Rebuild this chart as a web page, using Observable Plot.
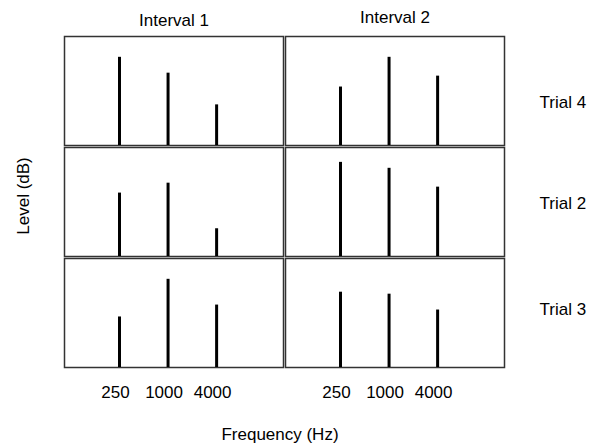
<!DOCTYPE html>
<html>
<head>
<meta charset="utf-8">
<script src="https://cdn.jsdelivr.net/npm/d3@7"></script>
<script src="https://cdn.jsdelivr.net/npm/@observablehq/plot@0.6"></script>
<style>
  html, body { margin: 0; padding: 0; background: white; }
</style>
</head>
<body>
<div id="chart"></div>
<script>
// Panels: columns are the two listening intervals, rows are trials.
const intervals = ["Interval 1", "Interval 2"];
const trials = ["Trial 4", "Trial 2", "Trial 3"];
// Tone frequencies (Hz), also used as the tick labels
const freqs = [250, 1000, 4000];

// Component levels (dB) at 250, 1000, 4000 Hz
const trial4Interval1 = [89, 73, 41];
const trial4Interval2 = [59, 89, 70];
const trial2Interval1 = [64, 74, 28];
const trial2Interval2 = [95, 89, 70];
const trial3Interval1 = [51, 89, 63];
const trial3Interval2 = [76, 74, 58];

const levels = {
  "Trial 4": [trial4Interval1, trial4Interval2],
  "Trial 2": [trial2Interval1, trial2Interval2],
  "Trial 3": [trial3Interval1, trial3Interval2]
};

const rows = [];
for (const trial of trials) {
  intervals.forEach((interval, i) => {
    freqs.forEach((freq, j) => {
      rows.push({trial, interval, freq, level: levels[trial][i][j]});
    });
  });
}

// Row labels sit a little off-centre of their panels
const trialLabelShift = {"Trial 4": 12, "Trial 2": 2, "Trial 3": -3};
const intervalLabelShift = {"Interval 1": 0, "Interval 2": -3};

const chart = Plot.plot({
  width: 589,
  height: 446,
  marginLeft: 64,
  marginRight: 85,
  marginTop: 36,
  marginBottom: 78,
  style: {
    fontFamily: "'Liberation Sans', Arial, sans-serif",
    fontSize: "17px",
    color: "black",
    background: "white"
  },
  x: {type: "log", domain: [52, 27000]},
  y: {domain: [0, 110], axis: null},
  fx: {domain: intervals, paddingInner: 0.011, paddingOuter: 0},
  fy: {domain: trials, paddingInner: 0.015, paddingOuter: 0},
  marks: [
    Plot.frame({stroke: "#333", strokeWidth: 1.5}),
    Plot.ruleX(rows, {
      x: "freq", y1: 0, y2: "level",
      fx: "interval", fy: "trial",
      stroke: "black", strokeWidth: 3
    }),
    Plot.axisX({ticks: freqs, tickSize: 0, tickPadding: 18, dx: -4, tickFormat: d => String(d), label: null}),
    ...intervals.map(t => Plot.axisFx({
      ticks: [t], anchor: "top", tickSize: 0, tickPadding: 11,
      dy: intervalLabelShift[t], label: null
    })),
    ...trials.map(t => Plot.axisFy({
      ticks: [t], anchor: "right", tickSize: 0, tickPadding: 35,
      textAnchor: "start", dy: trialLabelShift[t], label: null
    }))
  ]
});

// Overall axis titles
const svg = d3.select(chart);
svg.append("text")
  .attr("x", 280)
  .attr("y", 440)
  .attr("text-anchor", "middle")
  .attr("fill", "black")
  .text("Frequency (Hz)");
svg.append("text")
  .attr("transform", "translate(29,196) rotate(-90)")
  .attr("text-anchor", "middle")
  .attr("fill", "black")
  .text("Level (dB)");

document.getElementById("chart").append(chart);
</script>
</body>
</html>
